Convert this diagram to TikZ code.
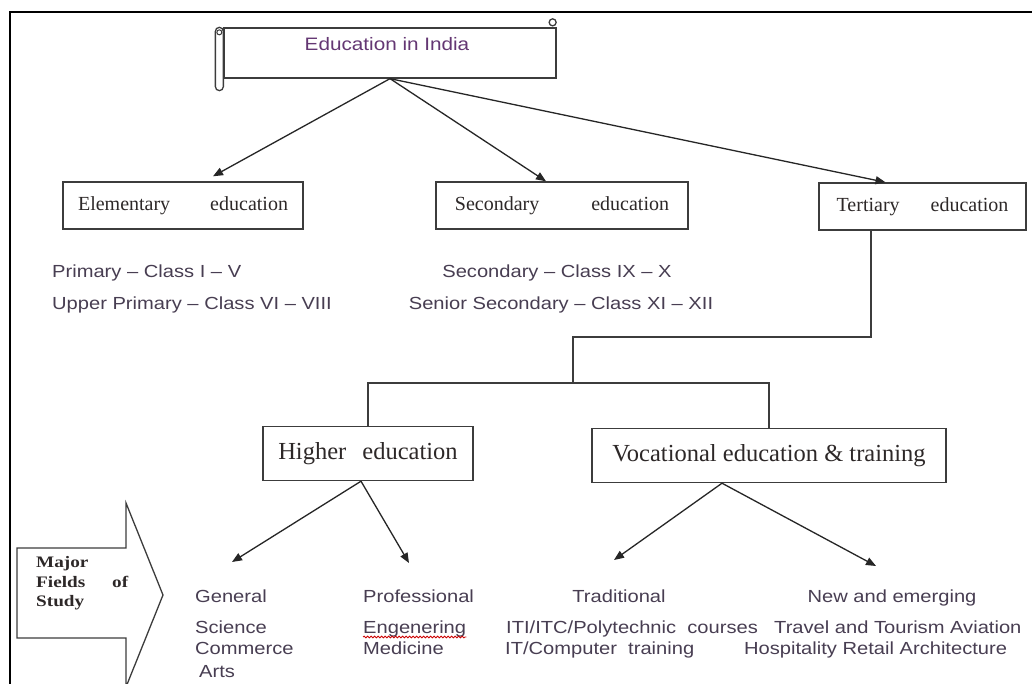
\documentclass[tikz,border=0pt]{standalone}
\usepackage{fontspec}
\usepackage{tikz}
\usetikzlibrary{arrows.meta, calc, decorations.pathmorphing}

\setmainfont{Liberation Serif}
\newfontfamily\sansstretch[FakeStretch=1.15]{Liberation Sans}
\newfontfamily\majorfont[FakeStretch=1.2]{Liberation Serif}

\definecolor{txtgray}{RGB}{72,62,82}
\definecolor{titlepurple}{RGB}{100,55,115}
\definecolor{boxline}{RGB}{60,60,60}
\definecolor{boxtext}{RGB}{45,40,40}

\begin{document}
\begin{tikzpicture}[
    x=1pt, y=-1pt,
    box/.style={rectangle, draw=boxline, line width=1.4pt, inner sep=0pt, text=boxtext},
    levelbox/.style={box, minimum width=#1, minimum height=47pt, font=\fontsize{20}{24}\selectfont},
    studybox/.style={box, minimum width=#1, minimum height=54pt, font=\fontsize{24.5}{28}\selectfont},
    item/.style={inner sep=0pt, anchor=base west, text=txtgray, font=\sansstretch\fontsize{17.5}{21}\selectfont},
    major/.style={inner sep=0pt, anchor=base west, text=boxtext, font=\majorfont\bfseries\fontsize{16}{20}\selectfont},
    arrow/.style={-{Triangle[length=10pt, width=8pt]}, line width=1.3pt, black!85},
    link/.style={line width=1.3pt, boxline},
]

\useasboundingbox (0,0) rectangle (1032,684);
\clip (0,0) rectangle (1032,684);
\fill[white] (0,0) rectangle (1032,684);

% Frame
\draw[line width=2.5pt] (1032,12) -- (10,12) -- (10,684);

% ========== ROOT ==========
\node[rectangle, draw=boxline, line width=1.3pt, minimum width=332pt, minimum height=50pt] (root) at (390,53) {};
\draw[boxline, line width=1.3pt, fill=white, rounded corners=4pt] ([xshift=-8pt]root.north west) rectangle ([yshift=-12pt]root.south west);
\draw[boxline, line width=1pt] ([xshift=-4pt, yshift=-5pt]root.north west) circle (2.5pt);
\draw[boxline, line width=1.3pt, fill=white] ([xshift=-4pt, yshift=5pt]root.north east) circle (3.5pt);
\node[text=titlepurple, font=\sansstretch\fontsize{18}{22}\selectfont] (title) at (387,44) {Education in India};

% ========== LEVELS ==========
\node[levelbox=240pt] (elem) at (183,205.5) {Elementary\hspace{35pt} education};
\node[levelbox=252pt] (sec) at (562,205.5) {Secondary\hspace{47pt} education};
\node[levelbox=207pt] (tert) at (922.5,206.5) {Tertiary\hspace{26pt} education};

\draw[arrow] (root.south) -- ([xshift=30pt, yshift=5pt]elem.north);
\draw[arrow] (root.south) -- ([xshift=-16pt]sec.north);
\draw[arrow] (root.south) -- ([xshift=-37pt]tert.north);

% Classes
\node[item] (prim) at (52,278) {Primary – Class I – V};
\node[item] (uprim) at (52,309) {Upper Primary – Class VI – VIII};
\node[item, anchor=base] (secl) at (557,278) {Secondary – Class IX – X};
\node[item, anchor=base] (sensec) at (561,309) {Senior Secondary – Class XI – XII};

% ========== TERTIARY SPLIT ==========
\node[studybox=210pt] (high) at (368,453.5) {Higher\hspace{10pt} education};
\node[studybox=354pt] (voc) at (769,455.5) {Vocational education \& training};

\coordinate (tbend) at (871,337);
\coordinate (split) at (573,383);
\draw[link] (tert.south -| tbend) -- (tbend) -| (split);
\draw[link] (high.north) |- (split) -| (voc.north);

% ========== FIELDS ==========
\coordinate (gentip) at (232,562);
\coordinate (proftip) at (409,563);
\coordinate (tradtip) at (614,560);
\coordinate (newtip) at (876,566);

\draw[arrow] ([xshift=-7pt]high.south) -- (gentip);
\draw[arrow] ([xshift=-7pt]high.south) -- (proftip);
\draw[arrow] ([xshift=-47pt]voc.south) -- (tradtip);
\draw[arrow] ([xshift=-47pt]voc.south) -- (newtip);

% Major fields of study arrow
\draw[boxline, line width=1.3pt, fill=white] (17,548) -- (126,548) -- (126,503) -- (163,595)
    -- (126,687) -- (126,638) -- (17,638) -- cycle;
\node[major] (maj1) at (36,567) {Major};
\node[major] (maj2) at (36,587) {\makebox[92pt][s]{Fields of}};
\node[major] (maj3) at (36,606) {Study};

% Higher education fields
\node[item] (gen) at (195,602) {General};
\node[item] (sci) at (195,633) {Science};
\node[item] (com) at (195,654) {Commerce};
\node[item] (arts) at (199,677) {Arts};
\node[item] (prof) at (363,602) {Professional};
\node[item] (eng) at (363,633) {Engenering};
\node[item] (med) at (363,654) {Medicine};
\draw[red!80!black, line width=0.8pt, decorate, decoration={snake, amplitude=0.9pt, segment length=3.5pt}]
    ([yshift=-4pt]eng.base west) -- ([yshift=-4pt]eng.base east);

% Vocational fields
\node[item, anchor=base] (trad) at (619,602) {Traditional};
\node[item] (iti) at (506,633) {ITI/ITC/Polytechnic\ \ courses};
\node[item] (itc) at (505,654) {IT/Computer\ \ training};
\node[item, anchor=base] (newem) at (892,602) {New and emerging};
\node[item] (trav) at (774,633) {Travel and Tourism Aviation};
\node[item] (hosp) at (744,654) {Hospitality Retail Architecture};

\end{tikzpicture}
\end{document}
